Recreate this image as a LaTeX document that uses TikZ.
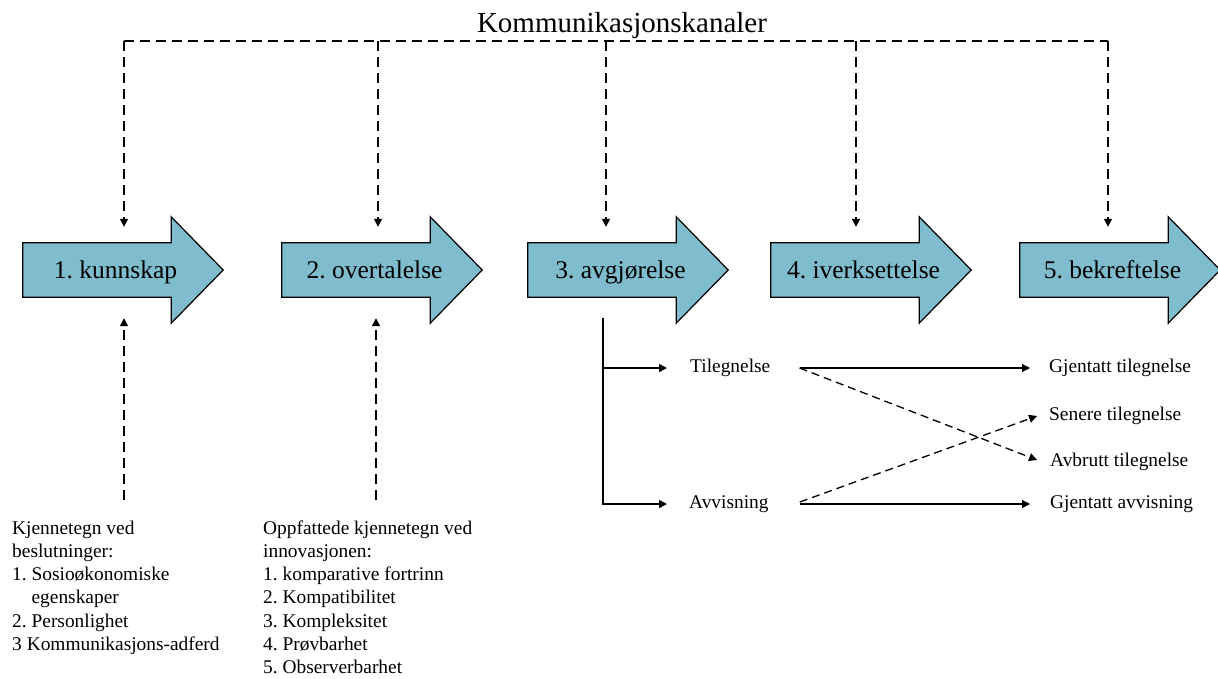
\documentclass[tikz,border=0pt]{standalone}
\usepackage{fontspec}
\setmainfont{Liberation Serif}
\usetikzlibrary{arrows.meta,calc}
\definecolor{stepblue}{RGB}{127,188,205}
\frenchspacing
\begin{document}
\begin{tikzpicture}[x=1pt,y=-1pt,
  tip/.style={-{Triangle[width=8pt,length=8pt]}},
  chan/.style={line width=1.4pt, dash pattern=on 10pt off 6pt},
  flow/.style={line width=1.3pt},
  body/.style={minimum width=148pt, minimum height=54pt, inner sep=0pt},
  stepshape/.style={fill=stepblue, draw=black, line width=1.2pt, line join=miter},
  steplabel/.style={font=\fontsize{25.5}{30}\selectfont, inner sep=0pt},
  small/.style={font=\fontsize{19.4}{23.3}\selectfont, inner sep=0pt, text height=13pt, text depth=4pt},
  listtext/.style={font=\fontsize{19.4}{23.3}\selectfont, inner sep=0pt, anchor=base west}
]
\useasboundingbox (0,0) rectangle (1218,678);

% the five stages as block arrows
\foreach \i/\x/\t in {1/23/1. kunnskap, 2/282/2. overtalelse, 3/528/3. avgjørelse,
                      4/771/4. iverksettelse, 5/1020/5. bekreftelse}{
  \node[body] (s\i) at ({\x+74},270) {};
  \path[stepshape] (s\i.north west) -- (s\i.north east) -- ++(0,-26)
     -- ($(s\i.east)+(52,0)$) -- ($(s\i.south east)+(0,26)$)
     -- (s\i.south east) -- (s\i.south west) -- cycle;
  \node[steplabel, anchor=base] (t\i) at ($(s\i.center)+(18.5,8)$) {\t};
}

% communication channels feeding every stage
\node[font=\fontsize{29}{34}\selectfont, inner sep=0pt, anchor=base] (title) at (622,32) {Kommunikasjonskanaler};
\coordinate (c1) at (124,41);
\coordinate (c2) at (378,41);
\coordinate (c3) at (606,41);
\coordinate (c4) at (856,41);
\coordinate (c5) at (1108,41);
\draw[chan] (c1) -- (c5);
\foreach \i in {1,...,5}{
  \draw[chan, tip] (c\i) -- ($(s\i.north -| c\i)+(0,-16)$);
}

% prior conditions and perceived characteristics
\coordinate (u1) at (124,500);
\coordinate (u2) at (376,500);
\draw[chan, tip] (u1) -- ($(s1.south -| u1)+(0,21)$);
\draw[chan, tip] (u2) -- ($(s2.south -| u2)+(0,21)$);

\node[listtext] (kjenn) at (12,534) {\begin{tabular}[t]{@{}l@{}}
Kjennetegn ved\\
beslutninger:\\
1. Sosioøkonomiske\\
\phantom{1. }egenskaper\\
2. Personlighet\\
3 Kommunikasjons-adferd
\end{tabular}};

\node[listtext] (innov) at (263,534) {\begin{tabular}[t]{@{}l@{}}
Oppfattede kjennetegn ved\\
innovasjonen:\\
1. komparative fortrinn\\
2. Kompatibilitet\\
3. Kompleksitet\\
4. Prøvbarhet\\
5. Observerbarhet
\end{tabular}};

% decision branches
\node[small, anchor=west] (til) at (690,368) {Tilegnelse};
\node[small, anchor=west] (avv) at (689,504) {Avvisning};
\coordinate (split) at ($(s3.south)+(1,21)$);
\draw[flow, tip] (split) |- ($(avv.west)+(-22,0)$);
\draw[flow, tip] (split |- til.west) -- ($(til.west)+(-23,0)$);

% outcomes
\node[small, anchor=west] (gt) at (1049,368) {Gjentatt tilegnelse};
\node[small, anchor=west] (st) at (1049,416) {Senere tilegnelse};
\node[small, anchor=west] (at) at (1050,462) {Avbrutt tilegnelse};
\node[small, anchor=west] (ga) at (1050,504) {Gjentatt avvisning};

\draw[flow, tip] ($(til.east)+(29,0)$) -- ($(gt.west)+(-19,0)$);
\draw[flow, tip, dash pattern=on 8pt off 5pt] ($(til.east)+(29,0)$) -- ($(at.west)+(-13,-2)$);
\draw[flow, tip, dash pattern=on 8pt off 5pt] ($(avv.east)+(31,-2)$) -- ($(st.west)+(-12,0)$);
\draw[flow, tip] ($(avv.east)+(31,0)$) -- ($(ga.west)+(-20,0)$);
\end{tikzpicture}
\end{document}
